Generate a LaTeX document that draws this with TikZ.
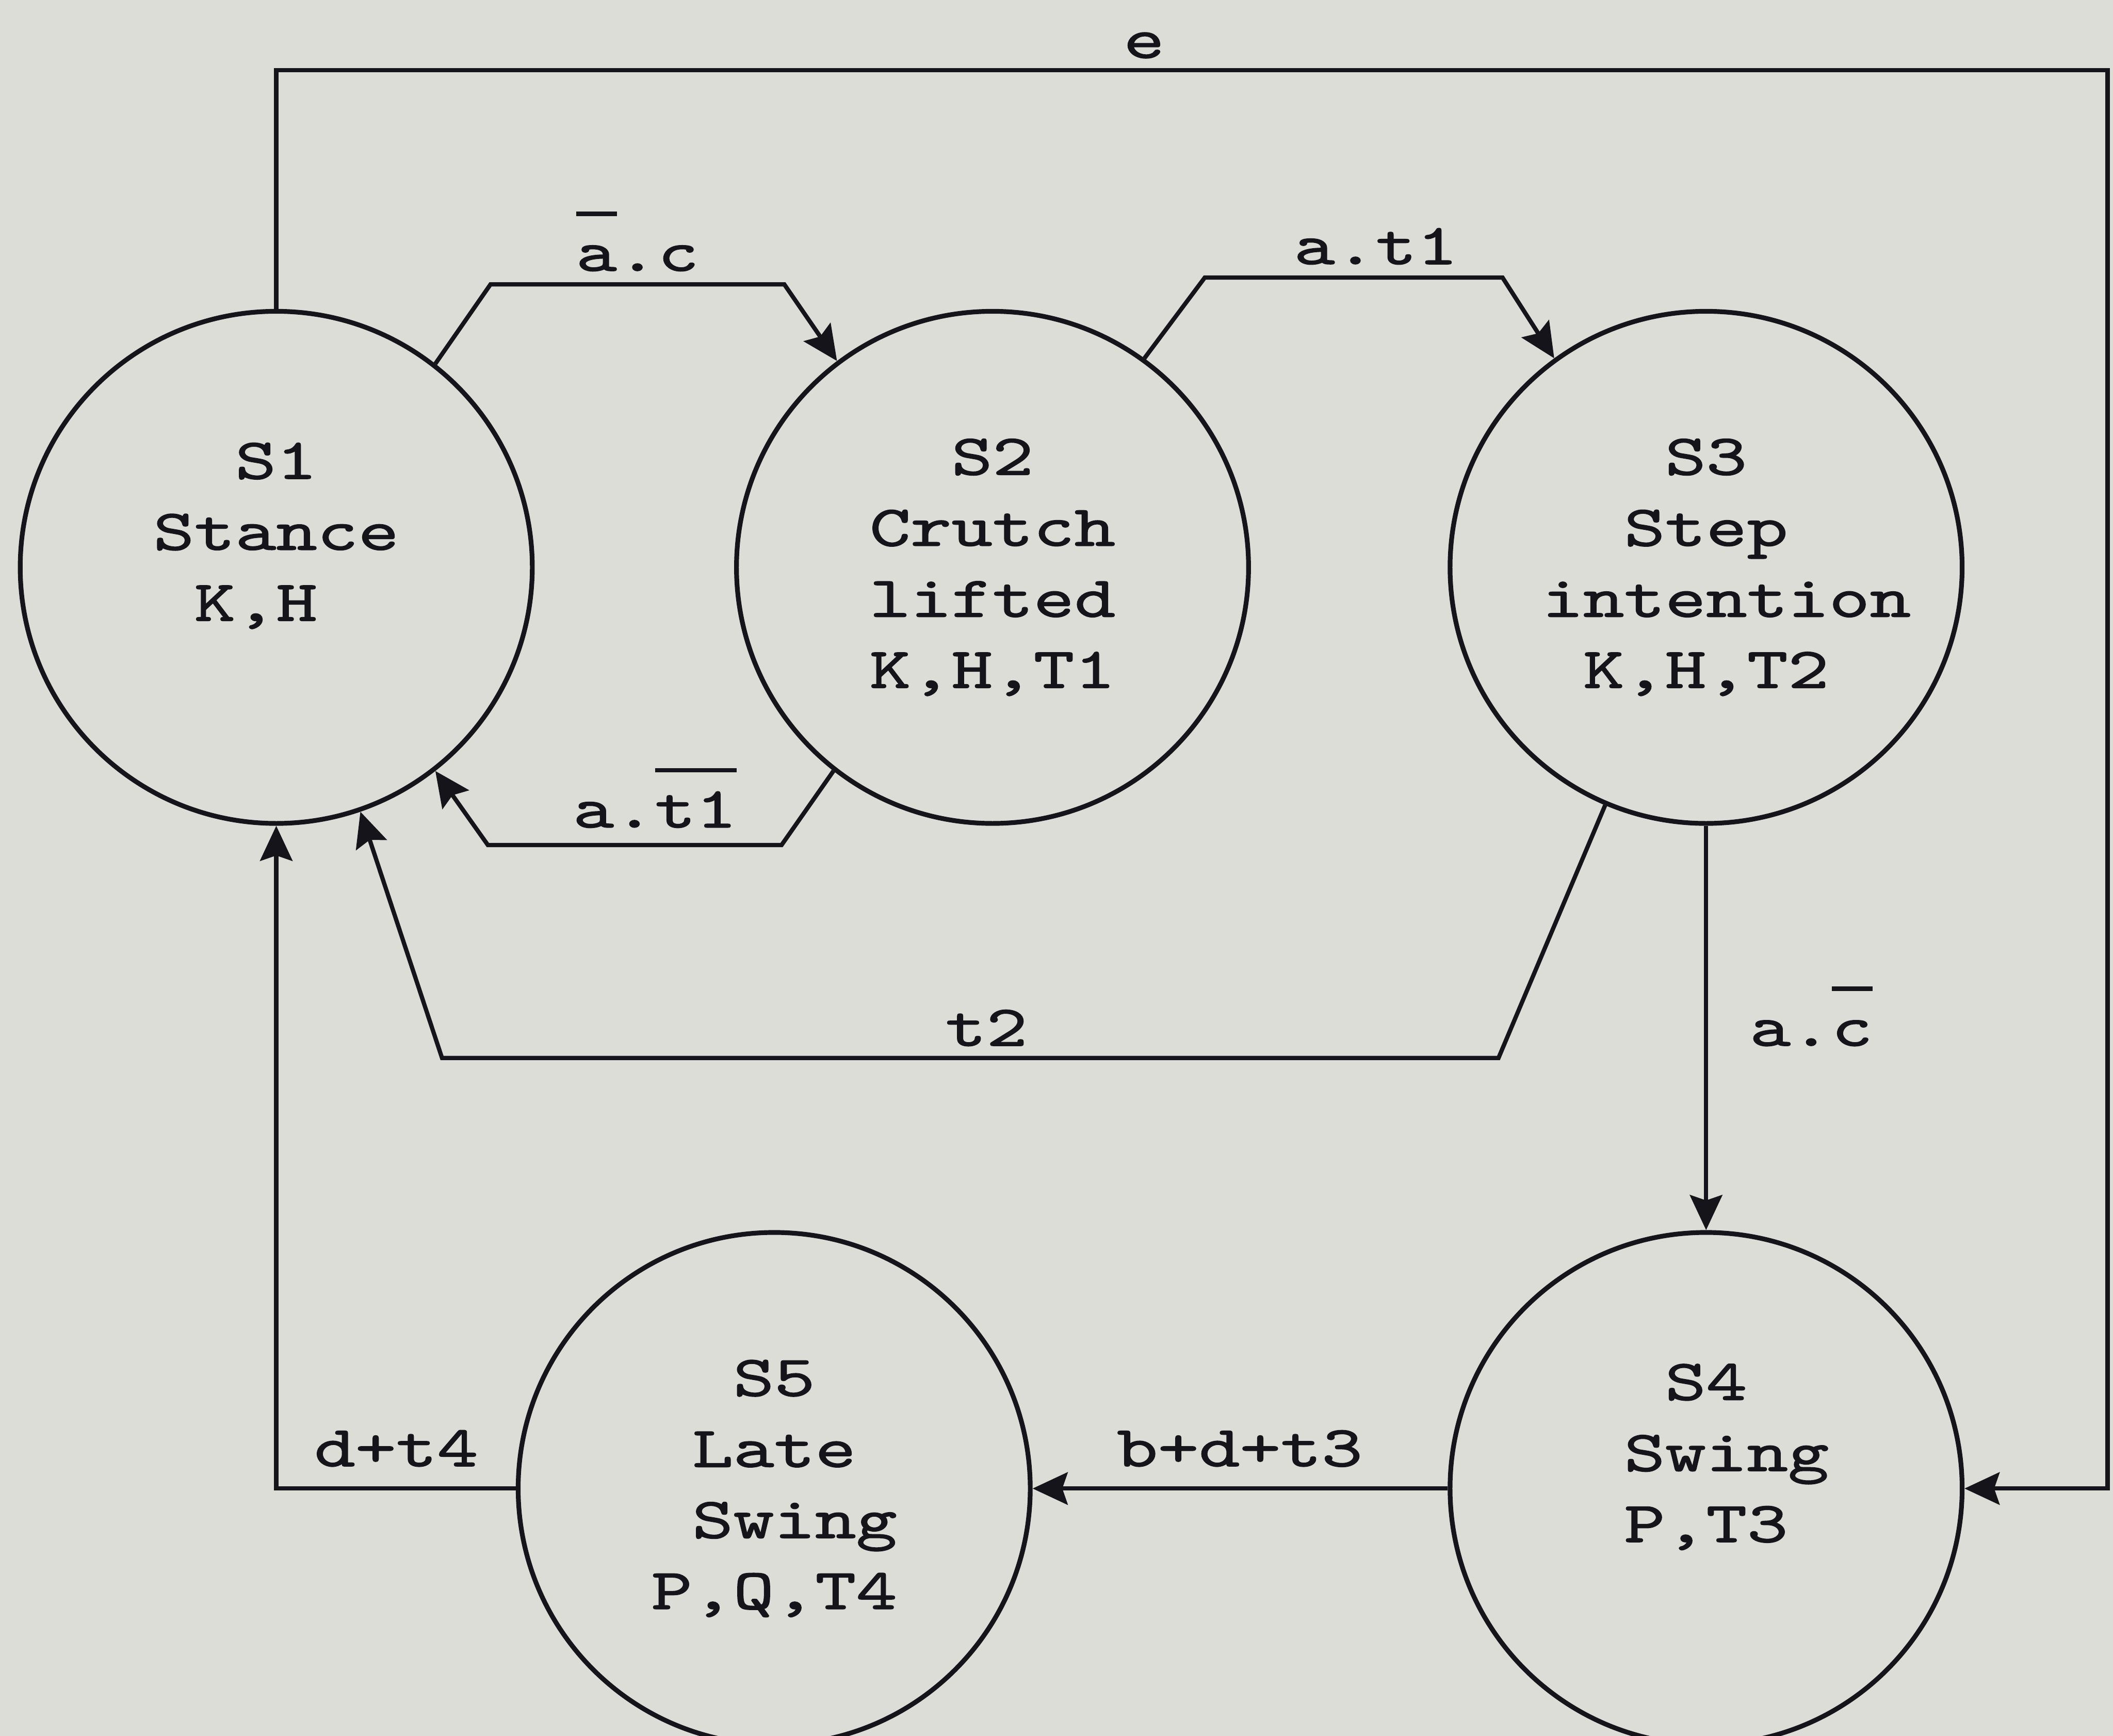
\documentclass[tikz,border=0pt]{standalone}
\usepackage{fontspec}
\newfontfamily\typefont{lmmono10-regular.otf}[FakeStretch=1.35, FakeBold=1.4]
\newcommand\statefont{\typefont\fontsize{12.2pt}{15.0pt}\selectfont}
\newlength\barwd
\newcommand\nbar[1]{\settowidth\barwd{#1}\rlap{\rule[11.6pt]{\barwd}{0.9pt}}#1}
\usetikzlibrary{arrows.meta, positioning}
\definecolor{paper}{RGB}{221,221,216}
\definecolor{ink}{RGB}{20,20,26}

\begin{document}
\begin{tikzpicture}[>={Stealth[length=2.6mm, width=2.4mm, inset=0.4mm]}, line width=0.9pt, color=ink,
    state/.style={draw, circle, line width=1pt, minimum size=3.8cm, inner sep=0pt, align=center, font=\statefont},
    lbl/.style={anchor=base, inner sep=0pt, font=\statefont}]
    \fill[paper] (0,0) rectangle (15.68,-12.88);
    \useasboundingbox (0,0) rectangle (15.68,-12.88);

    % states
    \node[state] (s1) at (2.05,-4.21) {S1\\Stance\\K,H\hphantom{x}\\~};
    \node[state, right=1.48cm of s1] (s2) {S2\\Crutch\\lifted\\K,H,T1};
    \node[state, right=1.46cm of s2] (s3) {S3\\Step\\\hphantom{x}intention\\K,H,T2};
    \node[state, below=3.0cm of s3] (s4) {S4\\\hphantom{x}Swing\\P,T3\\~};
    \node[state, left=3.08cm of s4] (s5) {S5\\Late\\\hphantom{x}Swing\\P,Q,T4};

    % transitions
    \draw[->] (s1.north) |- (15.64,-0.52) |- (s4.east);
    \draw[->] (s1.52) -- (3.64,-2.11) -- (5.82,-2.11) -- (s2.127);
    \draw[->] (s2.54) -- (8.94,-2.06) -- (11.15,-2.06) -- (s3.126);
    \draw[->] (s2.-128) -- (5.80,-6.27) -- (3.62,-6.27) -- (s1.-52);
    \draw[->] (s3.-113) -- (11.12,-7.85) -- (3.28,-7.85) -- (s1.-71);
    \draw[->] (s3) -- (s4);
    \draw[->] (s4) -- (s5);
    \draw[->] (s5.west) -| (s1.south);

    % conditions
    \node[lbl] (le) at (8.49,-0.43) {e};
    \node[lbl] (lac) at (4.73,-2.01) {\nbar{a}.c};
    \node[lbl] (lat) at (10.21,-1.96) {a.t1};
    \node[lbl] (lant) at (4.86,-6.14) {a.\nbar{t1}};
    \node[lbl] (lt) at (7.32,-7.76) {t2};
    \node[lbl] (lanc) at (13.44,-7.76) {a.\nbar{c}};
    \node[lbl] (lbdt) at (9.20,-10.88) {b+d+t3};
    \node[lbl] (ldt) at (2.94,-10.88) {d+t4};
\end{tikzpicture}
\end{document}
